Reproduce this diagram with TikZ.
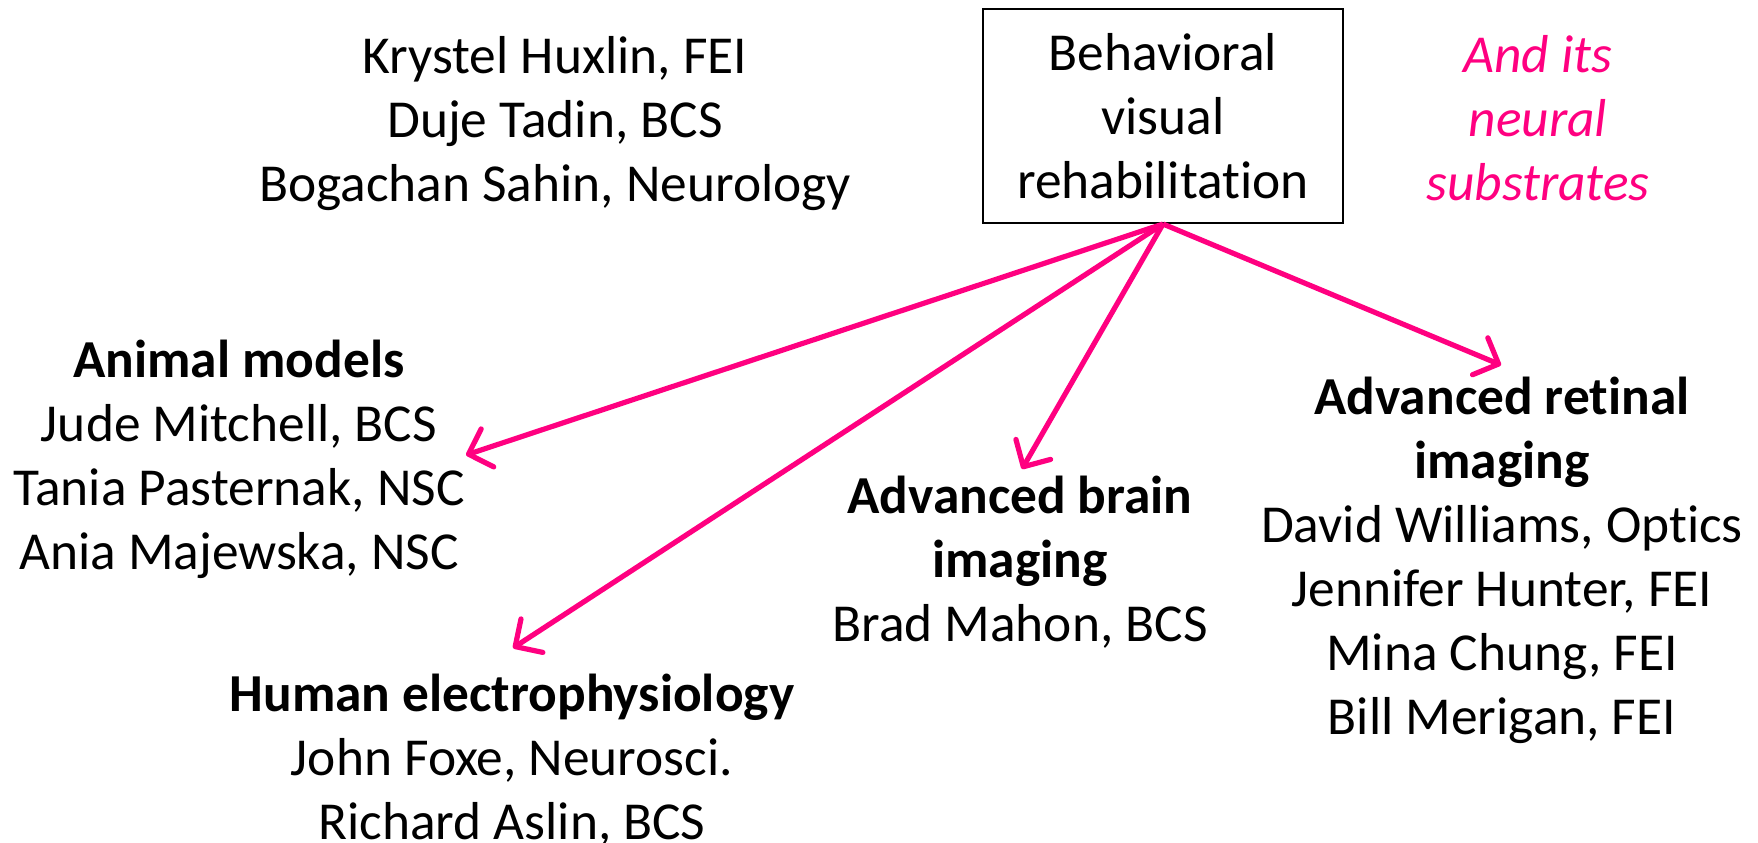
\documentclass[tikz,border=0pt]{standalone}
\usepackage{fontspec}
\setmainfont[Ligatures=NoCommon]{Carlito}
\usetikzlibrary{arrows.meta}
\definecolor{pinkc}{RGB}{255,0,128}
\tikzset{
  lbl/.style={align=center,inner sep=0pt,font=\fontsize{26.7pt}{32pt}\selectfont},
  arr/.style={draw=pinkc,line width=2.6pt,-{Straight Barb[length=10pt,width=20pt,round]}},
  boxst/.style={draw,line width=1pt,minimum width=180pt,minimum height=107pt,align=center,inner sep=0pt,font=\fontsize{26.7pt}{32pt}\selectfont}
}
\begin{document}
\begin{tikzpicture}[x=0.5pt,y=-0.5pt]
\useasboundingbox (0,0) rectangle (1758,842);
\node[boxst] (box) at (1163,116) {Behavioral\\visual\\rehabilitation};
\node[lbl] (team) at (555,124) {Krystel Huxlin, FEI\\Duje Tadin, BCS\\Bogachan Sahin, Neurology};
\node[lbl,text=pinkc,font=\fontsize{26.7pt}{32pt}\selectfont\itshape] (neural) at (1538,118) {And its\\neural\\substrates};
\node[lbl] (animal) at (239,459) {{\bfseries Animal models}\\Jude Mitchell, BCS\\Tania Pasternak, NSC\\Ania Majewska, NSC};
\node[lbl] (human) at (512,760) {{\bfseries Human electrophysiology}\\John Foxe, Neurosci.\\Richard Aslin, BCS};
\node[lbl] (brain) at (1020,562) {{\bfseries Advanced brain}\\{\bfseries imaging}\\Brad Mahon, BCS};
\node[lbl] (retina) at (1502,560) {{\bfseries Advanced retinal}\\{\bfseries imaging}\\David Williams, Optics\\Jennifer Hunter, FEI\\Mina Chung, FEI\\Bill Merigan, FEI};
\coordinate (src) at (1163,224);
\coordinate (tA) at (466,455);
\coordinate (tH) at (513,648);
\coordinate (tB) at (1022,469);
\coordinate (tR) at (1501,365);
\draw[arr] (src) -- (tA);
\draw[arr] (src) -- (tH);
\draw[arr] (src) -- (tB);
\draw[arr] (src) -- (tR);
\end{tikzpicture}
\end{document}
